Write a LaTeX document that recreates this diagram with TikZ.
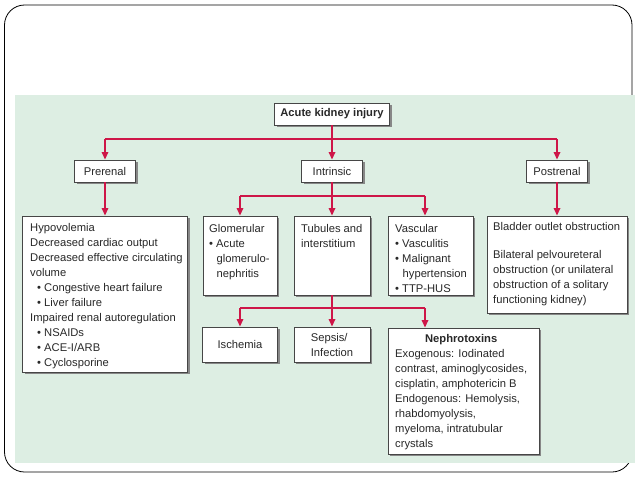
\documentclass[tikz,border=0pt]{standalone}
\usepackage{fontspec}
\setmainfont{Liberation Sans}
\usetikzlibrary{shadows,arrows.meta}
\definecolor{bgreen}{RGB}{221,238,227}
\definecolor{akired}{RGB}{206,22,72}
\definecolor{boxline}{RGB}{70,70,70}
\definecolor{shadowgray}{RGB}{135,135,135}
\definecolor{txtgray}{RGB}{40,40,40}
\begin{document}
\begin{tikzpicture}[x=1pt,y=-1pt,
  box/.style={draw=boxline, line width=0.9pt, fill=white, inner sep=0pt, text=txtgray,
    font=\fontsize{11.2}{15}\selectfont,
    drop shadow={shadow xshift=2pt, shadow yshift=-2pt, fill=shadowgray, opacity=1}},
  link/.style={draw=akired, line width=1.6pt},
  arr/.style={link, -{Triangle[width=6.5pt,length=7.5pt]}},
  txt/.style={anchor=base west, inner sep=0pt, text=txtgray, font=\fontsize{11.2}{15}\selectfont}
]
\useasboundingbox (0,0) rectangle (638,479);
\draw[line width=0.8pt, rounded corners=20pt] (4.5,5) rectangle (632,472);
\fill[bgreen] (15,95) rectangle (635,463);

% boxes
\node[box, minimum width=115pt, minimum height=22pt] (aki) at (332,114) {\textbf{Acute kidney injury}};
\node[box, minimum width=61pt, minimum height=22pt] (pre) at (105,171) {Prerenal};
\node[box, minimum width=61pt, minimum height=22pt] (intr) at (332,171) {Intrinsic};
\node[box, minimum width=61pt, minimum height=22pt] (post) at (557,171) {Postrenal};
\node[box, minimum width=165pt, minimum height=156pt] (preB) at (105,294) {};
\node[box, minimum width=74pt, minimum height=79pt] (glom) at (240,255.5) {};
\node[box, minimum width=76pt, minimum height=79pt] (tub) at (332,255.5) {};
\node[box, minimum width=85pt, minimum height=79pt] (vasc) at (430.5,255.5) {};
\node[box, minimum width=140pt, minimum height=97pt] (postB) at (557,264.5) {};
\node[box, minimum width=75pt, minimum height=35pt] (isch) at (240,344.5) {Ischemia};
\node[box, minimum width=76pt, minimum height=35pt, align=left] (seps) at (332,344.5) {Sepsis/\\Infection};
\node[box, minimum width=151pt, minimum height=126pt] (neph) at (463.5,391) {};

% texts
\node[txt] (preT) at (30,231) {\parbox[t]{156pt}{\raggedright
  Hypovolemia\\
  Decreased cardiac output\\
  Decreased effective circulating\\
  volume\\
  \hspace*{7pt}• Congestive heart failure\\
  \hspace*{7pt}• Liver failure\\
  Impaired renal autoregulation\\
  \hspace*{7pt}• NSAIDs\\
  \hspace*{7pt}• ACE-I/ARB\\
  \hspace*{7pt}• Cyclosporine}};
\node[txt] (glomT) at (209,232) {\parbox[t]{66pt}{\raggedright
  Glomerular\\
  • Acute\\
  \hspace*{7.5pt}glomerulo-\\
  \hspace*{7.5pt}nephritis}};
\node[txt] (tubT) at (301,232) {\parbox[t]{66pt}{\raggedright
  Tubules and\\
  interstitium}};
\node[txt] (vascT) at (395,232) {\parbox[t]{76pt}{\raggedright
  Vascular\\
  • Vasculitis\\
  • Malignant\\
  \hspace*{7.5pt}hypertension\\
  • TTP-HUS}};
\node[txt] (postT) at (493,230) {\parbox[t]{132pt}{\raggedright
  Bladder outlet obstruction\\[13pt]
  Bilateral pelvoureteral\\
  obstruction (or unilateral\\
  obstruction of a solitary\\
  functioning kidney)}};
\node[txt] (nephT) at (395,342) {\parbox[t]{132pt}{\centering\textbf{Nephrotoxins}\par
  \raggedright
  Exogenous: Iodinated\\
  contrast, aminoglycosides,\\
  cisplatin, amphotericin B\\
  Endogenous: Hemolysis,\\
  rhabdomyolysis,\\
  myeloma, intratubular\\
  crystals}};

% connectors
\coordinate (j1) at (332,139);
\draw[link] (aki.south) -- (j1);
\draw[link] (pre.north |- j1) -- (post.north |- j1);
\draw[arr] (pre.north |- j1) -- (pre.north);
\draw[arr] (j1) -- (intr.north);
\draw[arr] (post.north |- j1) -- (post.north);
\draw[arr] (pre.south) -- (pre.south |- preB.north);
\draw[arr] (post.south) -- (post.south |- postB.north);

\coordinate (j2) at (332,196);
\coordinate (g1) at (240,196);
\coordinate (v1) at (425,196);
\draw[link] (intr.south) -- (j2);
\draw[link] (g1) -- (v1);
\draw[arr] (g1) -- (g1 |- glom.north);
\draw[arr] (j2) -- (tub.north);
\draw[arr] (v1) -- (v1 |- vasc.north);

\coordinate (j3) at (332,308);
\coordinate (i1) at (240,308);
\coordinate (n1) at (425,308);
\draw[link] (tub.south) -- (j3);
\draw[link] (i1) -- (n1);
\draw[arr] (i1) -- (i1 |- isch.north);
\draw[arr] (j3) -- (seps.north);
\draw[arr] (n1) -- (n1 |- neph.north);
\end{tikzpicture}
\end{document}
